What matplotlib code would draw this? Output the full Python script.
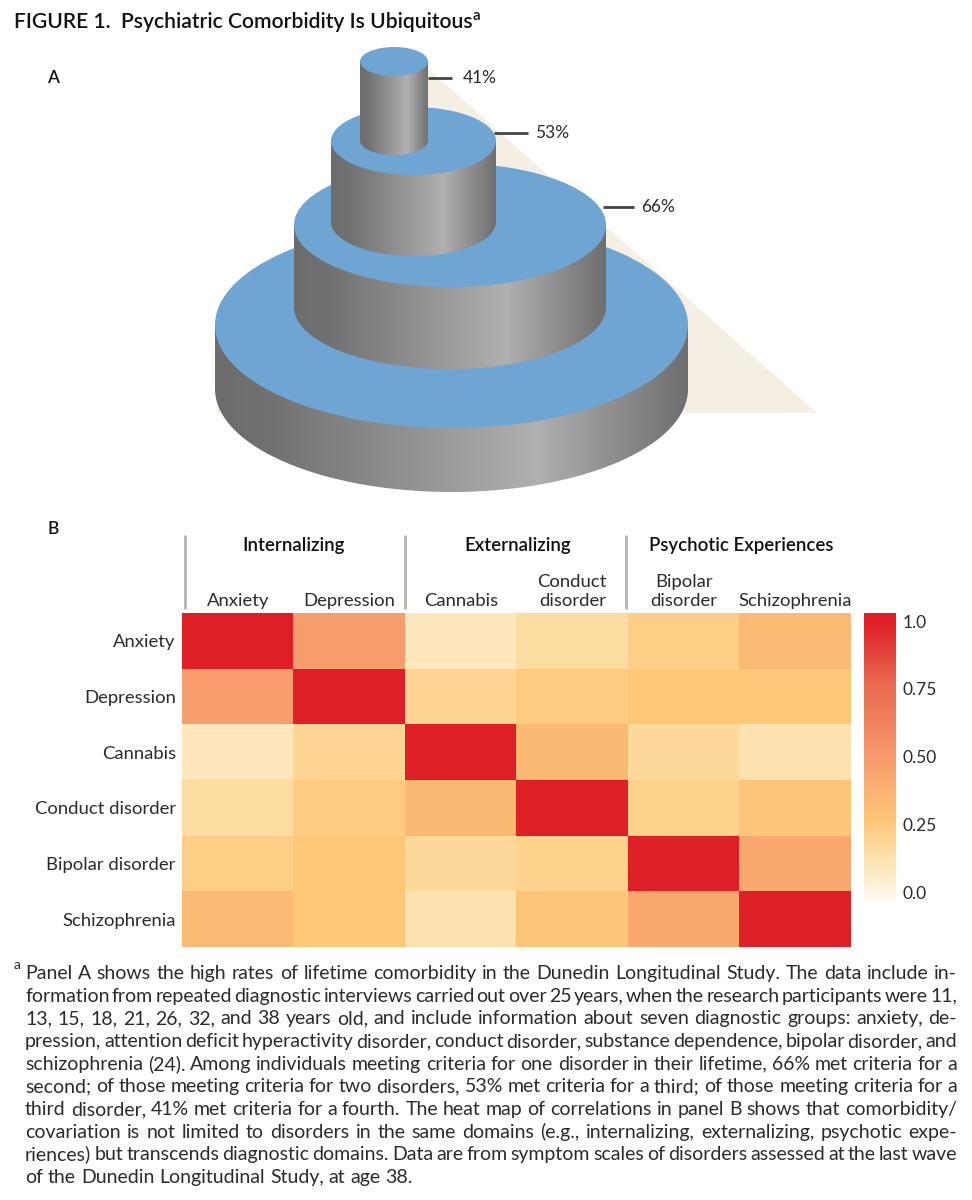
import numpy as np
import matplotlib
matplotlib.use("Agg")
import matplotlib.pyplot as plt
from matplotlib.colors import LinearSegmentedColormap, Normalize
from matplotlib.patches import Ellipse, Polygon

plt.rcParams['font.family'] = ['Lato', 'DejaVu Sans']

W, H = 972, 1200

# panel A labels
pct_labels = ["41%", "53%", "66%"]

# panel B
row_labels = ["Anxiety", "Depression", "Cannabis", "Conduct disorder", "Bipolar disorder", "Schizophrenia"]
col_labels = ["Anxiety", "Depression", "Cannabis", "Conduct\ndisorder", "Bipolar\ndisorder", "Schizophrenia"]
group_labels = ["Internalizing", "Externalizing", "Psychotic Experiences"]
corr = [
    [1.00, 0.48, 0.09, 0.15, 0.22, 0.32],
    [0.48, 1.00, 0.19, 0.23, 0.26, 0.26],
    [0.09, 0.19, 1.00, 0.33, 0.17, 0.12],
    [0.15, 0.23, 0.33, 1.00, 0.20, 0.27],
    [0.22, 0.26, 0.17, 0.20, 1.00, 0.42],
    [0.32, 0.26, 0.12, 0.27, 0.42, 1.00],
]
cbar_ticks = [0, 0.25, 0.5, 0.75, 1.0]
cbar_ticklabels = ["0.0", "0.25", "0.50", "0.75", "1.0"]

footnote = [
    "Panel A shows the high rates of lifetime comorbidity in the Dunedin Longitudinal Study. The data include in-",
    "formation from repeated diagnostic interviews carried out over 25 years, when the research participants were 11,",
    "13, 15, 18, 21, 26, 32, and 38 years old, and include information about seven diagnostic groups: anxiety, de-",
    "pression, attention deficit hyperactivity disorder, conduct disorder, substance dependence, bipolar disorder, and",
    "schizophrenia (24). Among individuals meeting criteria for one disorder in their lifetime, 66% met criteria for a",
    "second; of those meeting criteria for two disorders, 53% met criteria for a third; of those meeting criteria for a",
    "third disorder, 41% met criteria for a fourth. The heat map of correlations in panel B shows that comorbidity/",
    "covariation is not limited to disorders in the same domains (e.g., internalizing, externalizing, psychotic expe-",
    "riences) but transcends diagnostic domains. Data are from symptom scales of disorders assessed at the last wave",
    "of the Dunedin Longitudinal Study, at age 38.",
]

TEXT = "#2b2b2b"
BLUE = "#6fa5d2"
metal = LinearSegmentedColormap.from_list(
    "metal", [(0, "#6c6c6c"), (0.12, "#727272"), (0.68, "#b0b0b0"), (1, "#6e6e6e")])
heat = LinearSegmentedColormap.from_list(
    "heat", [(0, "#fffaf2"), (0.14, "#fee3b0"), (0.27, "#fdc878"), (0.50, "#f79a6c"),
             (0.75, "#e96a50"), (0.97, "#de1f26"), (1, "#de1f26")])
norm = Normalize(vmin=-0.033, vmax=1.03)

fig = plt.figure(figsize=(W / 100, H / 100), dpi=100, facecolor="white")
bg = fig.add_axes([0, 0, 1, 1])
bg.set_xlim(0, W)
bg.set_ylim(H, 0)
bg.axis("off")


def cylinder(ax, cx, cy, a, b, h):
    # body = side walls plus the lower half of the base ellipse
    t = np.linspace(0, np.pi, 120)
    pts = np.column_stack([cx + a * np.cos(t), cy + h + b * np.sin(t)])
    pts = np.vstack([[cx + a, cy], pts, [cx - a, cy]])
    body = Polygon(pts, closed=True, fc="none", ec="none")
    ax.add_patch(body)
    im = ax.imshow(np.linspace(0, 1, 256)[None, :], cmap=metal, aspect="auto",
                   extent=[cx - a, cx + a, cy + h + b, cy], zorder=2)
    im.set_clip_path(body)
    ax.add_patch(Ellipse((cx, cy), 2 * a, 2 * b, fc=BLUE, ec="none", zorder=2))


# cream shadow behind the stack
bg.add_patch(Polygon([(427, 68), (817, 413), (215, 413)], closed=True, fc="#f5efe3", ec="none", zorder=1))

# bottom to top: cx, cy, a, b, height
for geom in [(451.5, 325, 236.5, 103, 64), (450, 225, 156, 62, 82),
             (413.5, 141, 82.5, 34, 81), (394, 61.5, 34, 14.5, 79)]:
    cylinder(bg, *geom)
bg.set_xlim(0, W)
bg.set_ylim(H, 0)

for lab, x0, x1, y, xt in zip(pct_labels, [428, 494, 603], [452, 528, 634], [78, 133, 207], [463, 535, 641]):
    bg.plot([x0, x1], [y, y], color="#444444", lw=2, solid_capstyle="butt", zorder=3)
    bg.text(xt, y, lab, fontsize=12.5, color=TEXT, va="center", ha="left")

# heading and panel letters
bg.text(14, 22, "FIGURE 1.  Psychiatric Comorbidity Is Ubiquitous", fontsize=15.2, color="#111111",
        fontweight="semibold", va="center", ha="left")
bg.text(473, 16, "a", fontsize=11, color="#111111", fontweight="semibold", va="center", ha="left")
bg.text(47, 78, "A", fontsize=12.5, color="#111111", fontweight="semibold", va="center", ha="left")
bg.text(47, 529, "B", fontsize=12.5, color="#111111", fontweight="semibold", va="center", ha="left")

# heat map
ax = fig.add_axes([182 / W, 1 - 947 / H, (851 - 182) / W, (947 - 613) / H])
im = ax.imshow(np.array(corr), cmap=heat, norm=norm, aspect="auto", interpolation="nearest")
ax.set_xticks(range(6), col_labels)
ax.set_yticks(range(6), row_labels)
ax.xaxis.tick_top()
ax.tick_params(length=0, labelsize=13.3, labelcolor=TEXT)
ax.tick_params(axis="x", pad=3)
ax.tick_params(axis="y", pad=4.5)
for s in ax.spines.values():
    s.set_visible(False)

cax = fig.add_axes([864 / W, 1 - 901 / H, 32 / W, 288 / H])
cb = fig.colorbar(im, cax=cax, ticks=cbar_ticks)
cb.ax.set_yticklabels(cbar_ticklabels)
cb.ax.tick_params(length=0, labelsize=12.5, labelcolor=TEXT, pad=5)
cb.outline.set_visible(False)

# group headers
for x in [185, 405, 626]:
    bg.plot([x, x], [535, 609], color="#b5b3ad", lw=2, solid_capstyle="butt", zorder=3)
for lab, x in zip(group_labels, [294, 517.5, 741]):
    bg.text(x, 545, lab, fontsize=13.4, color="#111111", fontweight="semibold", va="center", ha="center")

# footnote, justified word by word like the journal setting
fig.canvas.draw()
renderer = fig.canvas.get_renderer()
FOOT_L, FOOT_R = 25, 957
FOOT_SIZE = 14.0
MIN_GAP = 2.0


def word_width(word, size):
    t = bg.text(0, 0, word, fontsize=size)
    w = t.get_window_extent(renderer).width
    t.remove()
    return w


bg.text(14, 965, "a", fontsize=10, color=TEXT, va="center", ha="left")
for i, line in enumerate(footnote):
    y = 972 + i * 22.65
    words = line.split(" ")
    size = FOOT_SIZE
    avail = FOOT_R - FOOT_L - MIN_GAP * (len(words) - 1)
    total = sum(word_width(w, size) for w in words)
    if total > avail:
        # tight lines in the original are set condensed
        size = size * avail / total
    widths = [word_width(w, size) for w in words]
    if i < len(footnote) - 1:
        gap = (FOOT_R - FOOT_L - sum(widths)) / (len(words) - 1)
    else:
        gap = word_width("a a", size) - 2 * word_width("a", size)
    x = FOOT_L
    for w, wd in zip(words, widths):
        bg.text(x, y, w, fontsize=size, color=TEXT, va="center_baseline", ha="left")
        x += wd + gap

fig.savefig("out.png", dpi=100)
